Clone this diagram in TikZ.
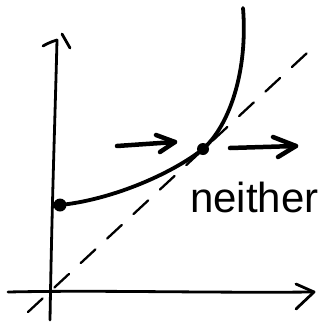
\documentclass[tikz,border=0pt]{standalone}
\usepackage{fontspec}
\setmainfont{Liberation Sans}
\begin{document}
\begin{tikzpicture}[x=1pt,y=-1pt,line cap=round,line join=round,
  axis/.style={line width=2.8pt},
  curvel/.style={line width=3.8pt},
  harrow/.style={line width=4.5pt},
  dashl/.style={line width=2.3pt,dash pattern=on 20pt off 16pt},
  dot/.style={circle,fill=black,inner sep=0pt}]
\useasboundingbox (0,0) rectangle (324,322);
% axes
\coordinate (ybot) at (50,320);
\coordinate (ytop) at (57,40);
\coordinate (xl) at (8,292);
\coordinate (xr) at (314,292);
\draw[axis] (ybot) .. controls (52,200) and (55,120) .. (ytop);
\draw[axis] (43,46) .. controls (50,42) and (54,41) .. (ytop);
\draw[axis] (62,34) -- (70,48);
\draw[axis] (xl) .. controls (100,290) and (200,293) .. (xr);
\draw[axis] (296,284) -- (xr) -- (296,309);
% dashed diagonal
\coordinate (d0) at (28,312);
\coordinate (d1) at (307,53);
\draw[dashl] (d0) -- (d1);
% curve
\node[dot,minimum size=12pt] (eq) at (203,149) {};
\node[dot,minimum width=9pt,minimum height=13pt] (y0) at (60,205) {};
\coordinate (ctop) at (243,8);
\draw[curvel] (y0.center) .. controls (110,200) and (170,175) .. (eq.center)
  .. controls (230,125) and (248,70) .. (ctop);
% arrows
\coordinate (a1s) at (117,146);
\coordinate (a1e) at (175,142);
\draw[harrow] (a1s) -- (a1e);
\draw[harrow] (156,135) -- (a1e) -- (160,152);
\coordinate (a2s) at (230,148);
\coordinate (a2e) at (296,146);
\draw[harrow] (a2s) -- (a2e);
\draw[harrow] (273,137) -- (a2e) -- (278,157);
% label
\node[font=\fontsize{42}{42}\selectfont,anchor=base west,inner sep=0pt] (lbl) at (190,212) {neither};
\end{tikzpicture}
\end{document}
